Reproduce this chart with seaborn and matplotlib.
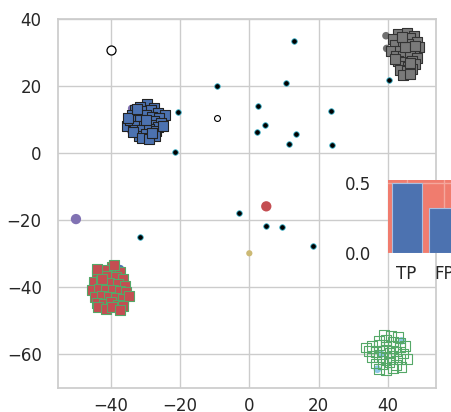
import matplotlib
matplotlib.use("Agg")
import matplotlib.pyplot as plt
import seaborn as sns
import pandas as pd

sns.set_theme(style="whitegrid")
plt.rcParams['font.family'] = ['DejaVu Sans']

# ---- cluster of blue squares ----
blue_x = [-29.6, -31.5, -27.5, -33.0, -30.5, -28.5, -26.5, -24.3, -34.0, -32.0, -30.0, -28.0,
          -26.0, -35.4, -33.5, -31.5, -29.5, -27.5, -25.5, -34.5, -32.5, -30.5, -28.5, -26.5,
          -33.0, -31.0, -29.0, -27.0, -32.0, -30.0, -28.0, -27.2, -33.5, -31.0, -29.0, -35.0,
          -25.0, -30.0, -32.5, -28.0]
blue_y = [14.6, 13.8, 13.5, 12.8, 12.5, 12.8, 12.0, 11.4, 11.2, 11.0, 11.3, 10.8, 10.5, 8.1,
          9.5, 9.8, 9.2, 9.6, 9.0, 9.8, 8.2, 8.0, 8.3, 7.8, 7.0, 6.8, 7.2, 6.5, 5.2, 5.8, 5.5,
          5.0, 6.3, 4.5, 4.2, 10.5, 8.0, 10.0, 13.0, 6.0]
blue_under_x = [-34.0, -34.3]
blue_under_y = [13.3, 6.6]

# ---- cluster of grey squares ----
grey_x = [43.0, 45.5, 47.5, 41.5, 44.0, 46.5, 48.5, 42.0, 44.5, 46.0, 49.0, 41.0, 43.5, 45.5,
          47.5, 42.5, 44.5, 46.5, 48.5, 43.0, 45.0, 47.0, 44.0, 46.0, 48.0, 43.5, 45.5, 47.0,
          44.5, 46.5, 45.0, 46.5, 42.0, 48.0, 44.0]
grey_y = [35.5, 35.9, 35.0, 34.0, 33.8, 34.2, 33.0, 32.2, 32.0, 32.5, 31.5, 30.5, 30.3, 30.8,
          30.0, 29.0, 28.8, 29.2, 28.5, 27.5, 27.2, 27.6, 26.0, 25.8, 26.5, 24.8, 24.5, 25.0,
          23.2, 23.5, 31.5, 27.0, 28.0, 32.0, 34.5]
grey_under_x = [39.5, 39.7, 49.0]
grey_under_y = [35.0, 31.2, 33.0]

# ---- cluster of red squares (green edge) ----
red_x = [-39.7, -42.0, -37.5, -44.0, -41.0, -38.5, -36.5, -45.0, -43.0, -40.5, -38.0, -36.0,
         -45.5, -43.5, -41.5, -39.5, -37.5, -35.5, -44.5, -42.5, -40.5, -38.5, -36.5, -34.9,
         -44.0, -42.0, -40.0, -38.0, -36.5, -43.6, -41.5, -39.7, -37.5, -42.5, -39.0, -44.0]
red_y = [-34.0, -35.0, -35.5, -36.5, -36.8, -37.0, -37.5, -38.5, -38.3, -38.8, -39.0, -39.8,
         -41.0, -40.5, -40.8, -41.0, -41.2, -41.5, -43.0, -42.5, -42.8, -43.2, -43.5, -42.5,
         -44.8, -45.0, -44.5, -45.2, -45.5, -45.9, -46.4, -46.0, -46.8, -37.5, -33.5, -34.5]
red_under_x = [-37.3, -36.0]
red_under_y = [-34.5, -45.0]

# ---- cluster of open green squares ----
green_x = [39.0, 41.0, 43.0, 37.5, 39.5, 41.5, 43.5, 35.5, 37.5, 39.5, 41.5, 43.5, 45.0, 34.5,
           36.5, 38.5, 40.5, 42.5, 44.5, 35.5, 37.5, 39.5, 41.5, 43.5, 45.6, 36.5, 38.5, 40.5,
           42.5, 37.5, 39.5, 41.5, 44.0, 33.7]
green_y = [-54.2, -54.5, -55.0, -56.0, -55.8, -56.2, -56.5, -57.5, -57.3, -57.8, -57.6, -58.0,
           -57.5, -59.0, -59.3, -59.0, -59.5, -59.2, -59.8, -61.0, -60.8, -61.2, -61.0, -61.5,
           -61.5, -62.8, -63.0, -62.5, -63.2, -64.5, -64.8, -64.3, -63.8, -58.0]
green_under_x = [37.0, 44.0, 38.0]
green_under_y = [-64.5, -56.0, -60.0]

# ---- scattered dark points ----
dot_x = [13.0, -9.4, 10.6, -20.7, 2.4, 23.6, 4.4, 2.3, 13.5, 11.6, 24.0, -21.4,
         -3.0, 4.9, 9.3, 18.5, -31.6, 40.4]
dot_y = [33.5, 20.1, 20.9, 12.1, 13.9, 12.4, 8.4, 6.3, 5.8, 2.7, 2.5, 0.2,
         -17.8, -21.8, -22.2, -27.6, -25.1, 21.7]

# ---- single special points ----
open_big = (-40.0, 30.7)
open_small = (-9.2, 10.4)
purple_pt = (-50.1, -19.7)
red_pt = (4.9, -15.9)
yellow_pt = (0.0, -29.9)

# ---- inset bars ----
bar_labels = ["TP", "FP"]
bar_values = [0.50, 0.32]

fig = plt.figure(figsize=(4.52, 4.12), dpi=100)
ax = fig.add_axes([0.129, 0.059, 0.836, 0.895])

deep = sns.color_palette("deep")

# underlying circles
sns.scatterplot(x=blue_under_x, y=blue_under_y, ax=ax, color=deep[4], s=30, edgecolor="none", legend=False)
sns.scatterplot(x=grey_under_x, y=grey_under_y, ax=ax, color="#707070", s=30, edgecolor="none", legend=False)
sns.scatterplot(x=red_under_x, y=red_under_y, ax=ax, color=deep[0], s=30, edgecolor="none", legend=False)
sns.scatterplot(x=green_under_x, y=green_under_y, ax=ax, color="#8fc7e8", s=30, edgecolor="none", legend=False)

# clusters
sns.scatterplot(x=blue_x, y=blue_y, ax=ax, marker="s", s=50, color=deep[0],
                edgecolor="#222222", linewidth=0.8, legend=False)
sns.scatterplot(x=grey_x, y=grey_y, ax=ax, marker="s", s=50, color="#7a7a7a",
                edgecolor="#333333", linewidth=0.8, legend=False)
sns.scatterplot(x=red_x, y=red_y, ax=ax, marker="s", s=50, color=deep[3],
                edgecolor=deep[2], linewidth=0.8, legend=False)
sns.scatterplot(x=green_x, y=green_y, ax=ax, marker="s", s=50, facecolor="none",
                edgecolor=deep[2], linewidth=0.8, legend=False)

# scattered dots
sns.scatterplot(x=dot_x, y=dot_y, ax=ax, s=16, color="black", edgecolor="#3fb8d0",
                linewidth=0.6, legend=False)

sns.scatterplot(x=[open_big[0]], y=[open_big[1]], ax=ax, s=42, facecolor="white",
                edgecolor="black", linewidth=0.9, legend=False)
sns.scatterplot(x=[open_small[0]], y=[open_small[1]], ax=ax, s=18, facecolor="white",
                edgecolor="black", linewidth=0.8, legend=False)
sns.scatterplot(x=[purple_pt[0]], y=[purple_pt[1]], ax=ax, s=55, color=deep[4],
                edgecolor="none", legend=False)
sns.scatterplot(x=[red_pt[0]], y=[red_pt[1]], ax=ax, s=55, color=deep[3],
                edgecolor="none", legend=False)
sns.scatterplot(x=[yellow_pt[0]], y=[yellow_pt[1]], ax=ax, s=20, color=deep[8],
                edgecolor="none", legend=False)

ax.set_xlim(-55.2, 54.0)
ax.set_ylim(-70, 40)
ax.set_xticks([-40, -20, 0, 20, 40])
ax.set_yticks([-60, -40, -20, 0, 20, 40])
ax.tick_params(labelsize=12, colors="#262626")
ax.tick_params(axis="x", pad=0.5)
ax.tick_params(axis="y", pad=6)
ax.set_xlabel("")
ax.set_ylabel("")

# inset
iax = fig.add_axes([0.858, 0.387, 0.166, 0.176])
iax.set_facecolor("#f07c6e")
df = pd.DataFrame({"label": bar_labels, "value": bar_values})
sns.barplot(data=df, x="label", y="value", ax=iax, color=deep[0], saturation=1,
            width=0.8, edgecolor="#a9bfe0", linewidth=0.8)
iax.set_xlim(-0.5, 1.5)
iax.set_ylim(0, 0.525)
iax.set_yticks([0.0, 0.5])
iax.set_xlabel("")
iax.set_ylabel("")
iax.tick_params(labelsize=12, colors="#262626")
iax.tick_params(axis="x", pad=3)
iax.tick_params(axis="y", pad=6)
iax.grid(True, color="#f5a79c", linewidth=1)
for sp in iax.spines.values():
    sp.set_visible(False)

fig.savefig("out.png", dpi=100)
